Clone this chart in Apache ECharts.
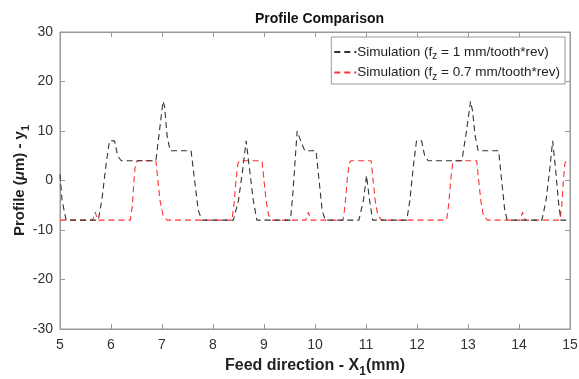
<!DOCTYPE html>
<html>
<head>
<meta charset="utf-8">
<script src="https://cdn.jsdelivr.net/npm/echarts@6/dist/echarts.min.js"></script>
<style>
  html, body { margin: 0; padding: 0; background: #fff; }
  #chart { width: 579px; height: 379px; }
</style>
</head>
<body>
<div id="chart"></div>
<script>
// profile for f_z = 1 mm/tooth*rev (black dashed)
const fz1X = [5.00, 5.04, 5.12, 5.75, 5.82, 5.90, 5.97, 6.07, 6.13, 6.20, 6.88, 6.95, 7.02, 7.05, 7.10, 7.16,
  7.57, 7.64, 7.71, 7.78, 8.40, 8.50, 8.58, 8.65, 8.72, 8.79, 8.86, 9.52, 9.57, 9.61, 9.65, 9.72, 9.80,
  10.02, 10.08, 10.14, 10.20, 10.86, 10.95, 11.01, 11.07, 11.13, 11.80, 11.86, 11.93, 11.99, 12.09, 12.15, 12.22,
  12.88, 12.97, 13.05, 13.09, 13.14, 13.20, 13.60, 13.66, 13.72, 13.77, 14.45, 14.53, 14.60, 14.66, 14.72, 14.77, 14.82, 15.00];
const fz1Y = [1.2, -4, -8, -8, -4, 3, 8, 8, 5, 4, 4, 10, 16, 15, 9, 6,
  6, 0, -6, -8, -8, -4, 2, 8, 2, -4, -8, -8, -2, 4, 10, 8, 6,
  6, 0, -6, -8, -8, -4, 1, -4, -8, -8, -4, 3, 8, 8, 5, 4,
  4, 10, 16, 14, 9, 6, 6, 0, -6, -8, -8, -4, 2, 8, 2, -4, -8, -8];

// profile for f_z = 0.7 mm/tooth*rev (red dashed)
const fz07X = [5.00, 5.64, 5.69, 5.74, 6.38, 6.42, 6.45, 6.48, 6.52, 6.88, 6.92, 6.96, 7.02, 7.10,
  8.37, 8.41, 8.45, 8.49, 8.53, 8.96, 9.00, 9.04, 9.09, 9.16, 9.82, 9.87, 9.92,
  10.55, 10.59, 10.63, 10.67, 10.71, 11.10, 11.14, 11.18, 11.23, 11.31,
  12.58, 12.62, 12.66, 12.70, 12.74, 13.17, 13.21, 13.25, 13.30, 13.38,
  14.02, 14.07, 14.12, 14.80, 14.84, 14.87, 14.90, 14.93, 15.00];
const fz07Y = [-8, -8, -6.4, -8, -8, -5, 0, 3.5, 4, 4, 0, -4, -7, -8,
  -8, -5, 0, 3.5, 4, 4, 0, -4, -7, -8, -8, -6.4, -8,
  -8, -5, 0, 3.5, 4, 4, 0, -4, -7, -8,
  -8, -5, 0, 3.5, 4, 4, 0, -4, -7, -8,
  -8, -6.4, -8, -8, -5, 0, 3.5, 4, 4];

const seriesNames = ['fz1', 'fz07'];
const legendLabels = {
  fz1: 'Simulation (f{sub|z} = 1 mm/tooth*rev)',
  fz07: 'Simulation (f{sub|z} = 0.7 mm/tooth*rev)'
};

const font = 'Liberation Sans, Arial, sans-serif';
const axisGray = '#999';

function pairs(xs, ys) {
  return xs.map(function (x, i) { return [x, ys[i]]; });
}

const chart = echarts.init(document.getElementById('chart'), null, { renderer: 'canvas' });

const tickStyle = { inside: true, length: 5, lineStyle: { color: axisGray } };
const lineStyleAxis = { show: true, onZero: false, lineStyle: { color: axisGray } };

const option = {
  animation: false,
  backgroundColor: '#fff',
  textStyle: { fontFamily: font },
  title: {
    text: 'Profile Comparison',
    left: 250,
    top: 7,
    textStyle: { fontFamily: font, fontSize: 14, fontWeight: 'bold', color: '#111' }
  },
  grid: {
    left: 60, right: 9, top: 32, bottom: 50,
    outerBoundsMode: 'none',
    containLabel: false,
    show: true, borderColor: axisGray, borderWidth: 1
  },
  legend: {
    orient: 'vertical',
    right: 14,
    top: 37,
    itemWidth: 22,
    itemHeight: 10,
    itemGap: 4,
    padding: [8, 5, 2, 2],
    backgroundColor: '#fff',
    borderColor: axisGray,
    borderWidth: 1,
    borderRadius: 0,
    itemStyle: { opacity: 0 },
    data: seriesNames,
    formatter: function (name) { return legendLabels[name]; },
    textStyle: {
      fontFamily: font, fontSize: 13.5, color: '#222', padding: [0, 0, 0, -4],
      rich: {
        sub: { fontFamily: font, fontSize: 10, padding: [9, 0, 0, 0], color: '#222' }
      }
    }
  },
  xAxis: [{
    type: 'value',
    min: 5, max: 15, interval: 1,
    name: 'Feed direction - X{sub|1}(mm)',
    nameLocation: 'middle',
    nameGap: 24,
    nameMoveOverlap: false,
    nameTextStyle: {
      fontFamily: font, fontSize: 16, fontWeight: 'bold', color: '#222',
      rich: { sub: { fontFamily: font, fontSize: 12, fontWeight: 'bold', padding: [13, 0, 0, 0], color: '#222' } }
    },
    axisLine: lineStyleAxis,
    axisTick: tickStyle,
    axisLabel: { fontFamily: font, fontSize: 14, color: '#333', margin: 9 },
    splitLine: { show: false }
  }, {
    type: 'value',
    position: 'top',
    min: 5, max: 15, interval: 1,
    axisLine: lineStyleAxis,
    axisTick: tickStyle,
    axisLabel: { show: false },
    splitLine: { show: false }
  }],
  yAxis: [{
    type: 'value',
    min: -30, max: 30, interval: 10,
    name: 'Profile ({mu|μ}m) - y{sub|1}',
    nameLocation: 'middle',
    nameGap: 29,
    nameMoveOverlap: false,
    nameRotate: 90,
    nameTextStyle: {
      fontFamily: font, fontSize: 15, fontWeight: 'bold', color: '#222',
      rich: {
        mu: { fontFamily: font, fontSize: 15, fontStyle: 'italic', color: '#222' },
        sub: { fontFamily: font, fontSize: 11, fontWeight: 'bold', padding: [12, 0, 0, 0], color: '#222' }
      }
    },
    axisLine: lineStyleAxis,
    axisTick: tickStyle,
    axisLabel: { fontFamily: font, fontSize: 14, color: '#333', margin: 7 },
    splitLine: { show: false }
  }, {
    type: 'value',
    position: 'right',
    min: -30, max: 30, interval: 10,
    axisLine: lineStyleAxis,
    axisTick: tickStyle,
    axisLabel: { show: false },
    splitLine: { show: false }
  }],
  series: [{
    name: 'fz1',
    type: 'line',
    data: pairs(fz1X, fz1Y),
    showSymbol: false,
    symbol: 'none',
    z: 3,
    lineStyle: { color: '#333', width: 1.1, type: [6, 4] },
    itemStyle: { color: '#333' }
  }, {
    name: 'fz07',
    type: 'line',
    data: pairs(fz07X, fz07Y),
    showSymbol: false,
    symbol: 'none',
    z: 2,
    lineStyle: { color: '#ff3030', width: 1.1, type: [6, 4] },
    itemStyle: { color: '#ff3030' }
  }]
};

chart.setOption(option);
</script>
</body>
</html>
